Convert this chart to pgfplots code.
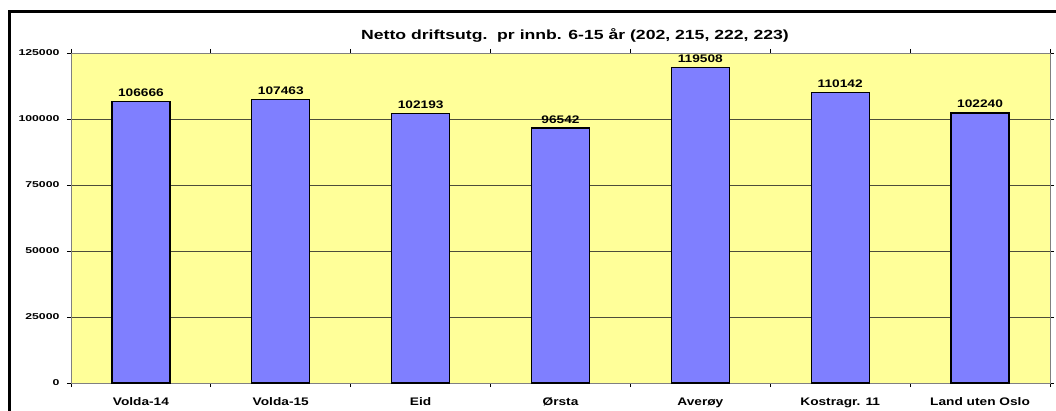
\documentclass[border=0pt]{standalone}
\usepackage{fontspec}
\setmainfont{Liberation Sans}
\newfontfamily\titlefont{Liberation Sans Bold}[FakeStretch=1.33]
\newfontfamily\catfont{Liberation Sans Bold}[FakeStretch=1.25]
\newfontfamily\valfont{Liberation Sans Bold}[FakeStretch=1.25]
\newfontfamily\tickfont{Liberation Sans Bold}[FakeStretch=1.45]
\usepackage{pgfplots}
\pgfplotsset{compat=1.18}
\usetikzlibrary{calc}
\definecolor{plotbg}{HTML}{FFFF99}
\definecolor{barblue}{HTML}{7F7FFF}
\definecolor{gridc}{HTML}{4D4D3A}
\begin{document}
\begin{tikzpicture}
\begin{axis}[
  name=ax,
  scale only axis,
  width=979bp, height=330bp,
  xmin=-0.5, xmax=6.5,
  ymin=0, ymax=125000,
  ytick={0,25000,50000,75000,100000,125000},
  /pgf/number format/assume math mode=true,
  scaled y ticks=false,
  yticklabel style={font=\tickfont\fontsize{8.5}{9}\selectfont, /pgf/number format/fixed, /pgf/number format/1000 sep={}, xshift=-4bp},
  xtick={0,1,2,3,4,5,6},
  xticklabels={Volda-14,Volda-15,Eid,Ørsta,Averøy,Kostragr. 11,Land uten Oslo},
  xticklabel style={font=\catfont\fontsize{11}{12}\selectfont, yshift=-7bp},
  minor xtick={-0.5,0.5,...,6.5},
  tick align=outside,
  major x tick style={draw=none},
  major tick length=4bp, minor tick length=4bp,
  tick style={black, line width=0.8pt},
  ymajorgrids,
  grid style={gridc, line width=0.9pt},
  axis background/.style={fill=plotbg},
  axis line style={draw=gray, line width=0.8pt},
  title={\titlefont\fontsize{13.3}{14}\selectfont Netto driftsutg.\ \ pr innb. 6-15 år (202, 215, 222, 223)},
  title style={at={(rel axis cs:0.5148,1)}, anchor=base, yshift=8bp, inner sep=0pt},
  clip=false,
]
\addplot[ybar, bar width=58bp, fill=barblue, draw=black, line width=1.4pt,
  nodes near coords,
  every node near coord/.append style={font=\valfont\fontsize{11}{12}\selectfont, black, yshift=1bp},
  point meta=explicit symbolic]
  coordinates {(0,106666)[106666] (1,107463)[107463] (2,102193)[102193] (3,96542)[96542] (4,119508)[119508] (5,110142)[110142] (6,102240)[102240]};
\end{axis}
\useasboundingbox ($(ax.south west)+(-71bp,-28bp)$) rectangle ($(ax.south west)+(985bp,383bp)$);
\draw[line width=3bp, black] ($(ax.south west)+(-61.5bp,-60bp)$) -- ($(ax.south west)+(-61.5bp,371.5bp)$) -- ($(ax.south west)+(1020bp,371.5bp)$);
\end{tikzpicture}
\end{document}
